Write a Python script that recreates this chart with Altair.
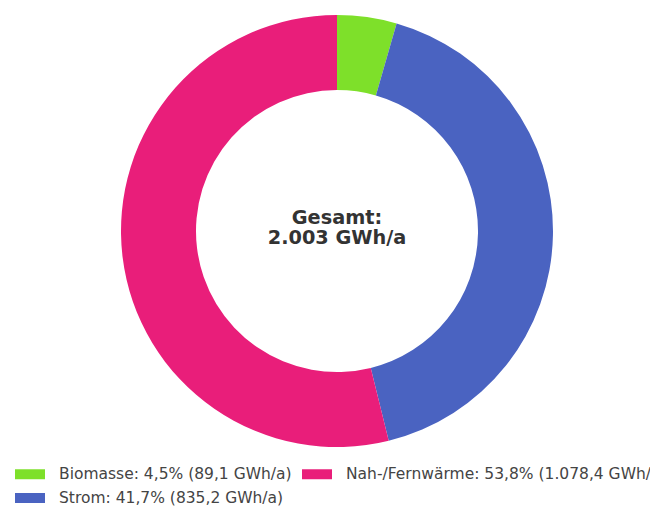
import altair as alt
import pandas as pd

categories = ["Biomasse", "Strom", "Nah-/Fernwärme"]
values_gwh = [89.1, 835.2, 1078.4]
percents = [4.5, 41.7, 53.8]
colors = ["#7ee02a", "#4a63c1", "#e91e7a"]
legend_order = ["Biomasse", "Nah-/Fernwärme", "Strom"]


def de_num(v, digits=1):
    s = f"{v:,.{digits}f}"
    return s.replace(",", "X").replace(".", ",").replace("X", ".")


labels = [
    f"{c}: {de_num(p)}% ({de_num(v)} GWh/a)"
    for c, p, v in zip(categories, percents, values_gwh)
]
df = pd.DataFrame({
    "category": categories,
    "value": values_gwh,
    "label": labels,
    "order": list(range(len(categories))),
})

total = sum(values_gwh) / 1000.0
center_lines = ["Gesamt:", f"{total:.3f} GWh/a"]

label_by_cat = dict(zip(categories, labels))
color_by_cat = dict(zip(categories, colors))
domain = [label_by_cat[c] for c in legend_order]
rng = [color_by_cat[c] for c in legend_order]

arc = alt.Chart(df).mark_arc(outerRadius=216, innerRadius=141, strokeWidth=0).encode(
    theta=alt.Theta("value:Q", stack=True),
    order=alt.Order("order:Q"),
    color=alt.Color(
        "label:N",
        title=None,
        scale=alt.Scale(domain=domain, range=rng),
        legend=alt.Legend(
            orient="none",
            direction="horizontal",
            legendX=7,
            legendY=451,
            columns=2,
            padding=0,
            symbolType="M-1,-0.333H1V0.333H-1Z",
            symbolSize=900,
            symbolStrokeWidth=0,
            symbolOpacity=1,
            labelOffset=14,
            columnPadding=10,
            rowPadding=-8,
            labelLimit=500,
            labelFont="DejaVu Sans",
            labelFontSize=15.5,
            labelColor="#444444",
        ),
    ),
    x=alt.value(329),
    y=alt.value(223),
)

text = alt.Chart(pd.DataFrame({"t": [0]})).mark_text(
    font="DejaVu Sans",
    fontSize=19.3,
    fontWeight="bold",
    color="#333333",
    lineHeight=20,
    align="center",
    baseline="middle",
).encode(
    text=alt.value(center_lines),
    x=alt.value(329),
    y=alt.value(210),
)

chart = alt.layer(arc, text).properties(
    width=642,
    height=498,
    autosize=alt.AutoSizeParams(type="none"),
    padding=0,
    background="white",
).configure_view(stroke=None)

chart.save("out.html", embed_options={"renderer": "svg", "actions": False})
